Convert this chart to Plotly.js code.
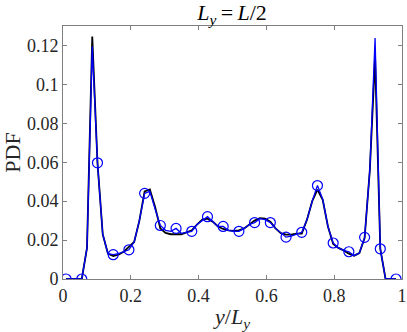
<!DOCTYPE html>
<html>
<head>
<meta charset="utf-8">
<script src="https://cdn.plot.ly/plotly-3.0.1.min.js"></script>
<style>
  html, body { margin: 0; padding: 0; background: #fff; }
  #chart { width: 407px; height: 332px; }
</style>
</head>
<body>
<div id="chart"></div>
<script>
// bin centres, y / L_y
const yBins = [
    0.0090, 0.0245, 0.0399, 0.0554, 0.0708, 0.0863, 0.1017, 0.1172,
    0.1326, 0.1481, 0.1635, 0.1790, 0.1944, 0.2099, 0.2253, 0.2408,
    0.2562, 0.2717, 0.2871, 0.3026, 0.3180, 0.3335, 0.3489, 0.3644,
    0.3798, 0.3953, 0.4107, 0.4262, 0.4416, 0.4571, 0.4725, 0.4880,
    0.5034, 0.5189, 0.5343, 0.5498, 0.5652, 0.5807, 0.5961, 0.6116,
    0.6270, 0.6425, 0.6579, 0.6734, 0.6888, 0.7043, 0.7197, 0.7352,
    0.7506, 0.7661, 0.7815, 0.7970, 0.8124, 0.8279, 0.8433, 0.8588,
    0.8742, 0.8897, 0.9051, 0.9206, 0.9360, 0.9515, 0.9669, 0.9824
];

// blue curve (with circle markers every third bin)
const pdfBlue = [
    0, 0, 0, 0, 0.016, 0.1195, 0.0597, 0.023,
    0.013, 0.0125, 0.013, 0.014, 0.015, 0.019, 0.030, 0.044,
    0.045, 0.036, 0.0275, 0.025, 0.0245, 0.026, 0.0235, 0.024,
    0.0245, 0.028, 0.030, 0.032, 0.0295, 0.027, 0.027, 0.025,
    0.0245, 0.0245, 0.026, 0.028, 0.029, 0.031, 0.0305, 0.029,
    0.026, 0.0235, 0.0215, 0.022, 0.023, 0.024, 0.0305, 0.040,
    0.048, 0.041, 0.027, 0.0185, 0.016, 0.0147, 0.014, 0.012,
    0.0133, 0.0214, 0.056, 0.1238, 0.0155, 0, 0, 0
];

// black curve
const pdfBlack = [
    0, 0, 0, 0, 0.016, 0.1246, 0.0597, 0.023,
    0.013, 0.0118, 0.0125, 0.014, 0.0165, 0.019, 0.030, 0.045,
    0.046, 0.037, 0.026, 0.0237, 0.023, 0.023, 0.023, 0.024,
    0.025, 0.028, 0.0305, 0.031, 0.0295, 0.027, 0.0257, 0.025,
    0.0247, 0.025, 0.026, 0.028, 0.030, 0.0313, 0.031, 0.0295,
    0.026, 0.0236, 0.0228, 0.0228, 0.0233, 0.0233, 0.0305, 0.040,
    0.0459, 0.0407, 0.027, 0.018, 0.016, 0.0147, 0.013, 0.012,
    0.0133, 0.021, 0.056, 0.114, 0.0155, 0, 0, 0
];

const markerStep = 3;
const xTicks = [0, 0.2, 0.4, 0.6, 0.8, 1];
const yTicks = [0, 0.02, 0.04, 0.06, 0.08, 0.1, 0.12];

const markX = yBins.filter((_, i) => i % markerStep === 0);
const markY = pdfBlue.filter((_, i) => i % markerStep === 0);

const serif = "'Liberation Serif', 'DejaVu Serif', serif";
const axisColor = "#7f7f7f";
const textColor = "#262626";

const traces = [
    {
        x: yBins, y: pdfBlack, mode: "lines", type: "scatter",
        line: { color: "#000000", width: 1.8 },
        hoverinfo: "skip"
    },
    {
        x: yBins, y: pdfBlue, mode: "lines", type: "scatter",
        line: { color: "#0000ff", width: 1.3 },
        hoverinfo: "skip"
    },
    {
        x: markX, y: markY, mode: "markers", type: "scatter",
        marker: { symbol: "circle-open", size: 10, color: "#0000ff", line: { width: 1.2, color: "#0000ff" } },
        hoverinfo: "skip"
    }
];

const axisBase = {
    showline: true, linecolor: axisColor, linewidth: 1, mirror: "ticks",
    ticks: "inside", ticklen: 4, tickcolor: axisColor, tickwidth: 1,
    showgrid: false, zeroline: false,
    tickfont: { family: serif, size: 18, color: textColor }
};

const layout = {
    width: 407, height: 332,
    margin: { l: 63, r: 5, t: 26, b: 53 },
    paper_bgcolor: "#ffffff", plot_bgcolor: "#ffffff",
    showlegend: false,
    title: {
        text: "<i>L</i><sub><i>y</i></sub>&#8201;=&#8201;<i>L</i>/2",
        font: { family: serif, size: 22, color: "#000000" },
        x: 0.57, xanchor: "center", y: 0.962, yanchor: "middle", yref: "container"
    },
    xaxis: Object.assign({}, axisBase, {
        range: [0, 1], tickvals: xTicks, ticktext: xTicks.map(String),
        title: { text: "<i>y</i>/<i>L</i><sub><i>y</i></sub>", font: { family: serif, size: 22, color: textColor }, standoff: 4 }
    }),
    yaxis: Object.assign({}, axisBase, {
        range: [0, 0.13], tickvals: yTicks, ticktext: yTicks.map(String),
        title: { text: "PDF", font: { family: serif, size: 22, color: textColor }, standoff: 12 }
    })
};

Plotly.newPlot("chart", traces, layout, { staticPlot: true, displayModeBar: false });
</script>
</body>
</html>
